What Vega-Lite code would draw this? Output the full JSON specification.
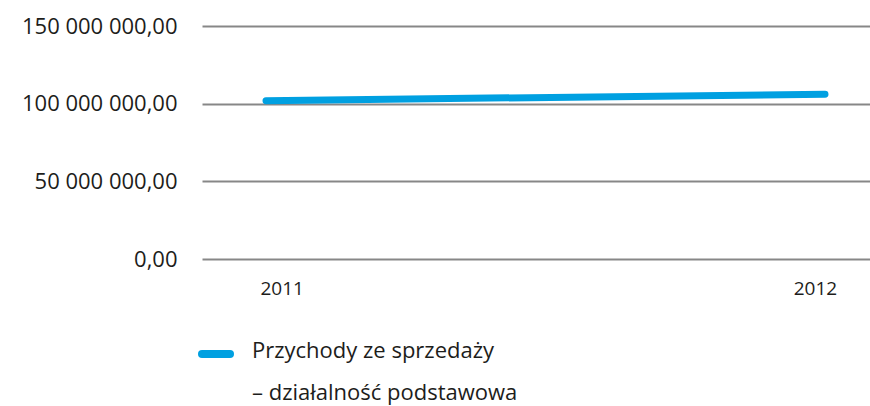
{
  "$schema": "https://vega.github.io/schema/vega-lite/v6.json",
  "width": 668,
  "height": 233,
  "autosize": {"type": "none"},
  "padding": {"left": 202, "top": 26, "right": 0, "bottom": 147},
  "background": "white",
  "config": {
    "view": {"stroke": null},
    "font": "Open Sans",
    "locale": {"number": {"decimal": ",", "thousands": " ", "grouping": [3], "currency": ["", ""]}}
  },
  "data": {"values": [
    {"rok": 2011, "wartosc": 101900000, "seria": "Przychody ze sprzedaży|– działalność podstawowa"},
    {"rok": 2012, "wartosc": 106100000, "seria": "Przychody ze sprzedaży|– działalność podstawowa"}
  ]},
  "mark": {"type": "line", "strokeWidth": 7, "strokeCap": "round"},
  "encoding": {
    "x": {
      "field": "rok", "type": "quantitative",
      "scale": {"domain": [2010.8855, 2012.0805], "nice": false, "zero": false},
      "axis": {
        "title": null, "values": [2011.028, 2011.982],
        "labelExpr": "datum.value < 2011.5 ? '2011' : '2012'",
        "domain": false, "ticks": false, "grid": false,
        "labelFontSize": 19, "labelPadding": 20, "labelColor": "#1d1d1b", "labelFlush": false
      }
    },
    "y": {
      "field": "wartosc", "type": "quantitative",
      "scale": {"domain": [0, 150000000], "nice": false},
      "axis": {
        "title": null, "values": [0, 50000000, 100000000, 150000000],
        "format": ",.2f",
        "domain": false, "ticks": false,
        "grid": true, "gridColor": "#878787", "gridWidth": 2,
        "labelFontSize": 22, "labelPadding": 25, "labelColor": "#1d1d1b"
      }
    },
    "color": {
      "field": "seria", "type": "nominal",
      "scale": {"range": ["#00A0E1"]},
      "legend": {
        "title": null, "orient": "none", "legendX": -4, "legendY": 310,
        "padding": 0,
        "labelExpr": "split(datum.label, '|')",
        "labelFontSize": 22, "labelColor": "#1d1d1b", "labelOffset": 18,
        "labelLimit": 400,
        "symbolType": "stroke", "symbolStrokeWidth": 8, "symbolSize": 784,
        "encode": {
          "symbols": {"update": {"strokeCap": {"value": "round"}}},
          "labels": {"update": {"lineHeight": {"value": 42}, "dy": {"value": -3}}}
        }
      }
    }
  }
}
